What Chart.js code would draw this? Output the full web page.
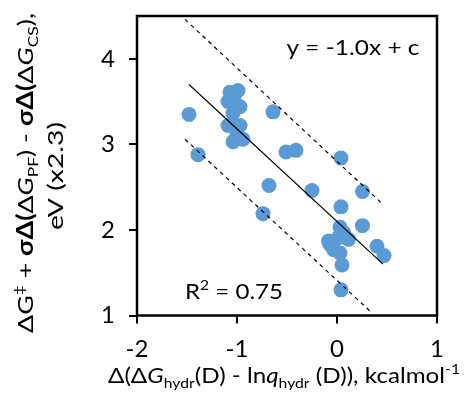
<!DOCTYPE html>
<html>
<head>
<meta charset="utf-8">
<script src="https://cdn.jsdelivr.net/npm/chart.js@4"></script>
<style>
  html, body { margin: 0; padding: 0; background: #fff; }
  #wrap { width: 467px; height: 406px; }
</style>
</head>
<body>
<div id="wrap"><canvas id="chart" width="467" height="406"></canvas></div>
<script>
// measured compounds
const hydrX = [-1.48, -1.39, -1.07, -0.99, -1.03, -1.09, -0.97, -1.04, -1.09, -0.97, -1.00, -1.04, -0.94,
  -0.64, -0.51, -0.41, -0.68, -0.74, -0.25, 0.04, 0.255, 0.04, 0.255, 0.03, 0.065, -0.085, 0.015,
  0.115, -0.035, 0.03, -0.07, 0.40, 0.47, 0.05, 0.04];
const barrierY = [3.35, 2.88, 3.61, 3.63, 3.56, 3.50, 3.44, 3.36, 3.22, 3.22, 3.12, 3.03, 3.06,
  3.38, 2.91, 2.93, 2.52, 2.19, 2.46, 2.84, 2.45, 2.27, 2.05, 2.03, 1.97, 1.87, 1.91,
  1.89, 1.77, 1.73, 1.83, 1.81, 1.70, 1.59, 1.30];

// fit line and the two bounding lines (end points)
const fitX = [-1.48, 0.46];
const fitY = [3.70, 1.60];
const upperX = [-1.52, 0.44];
const upperY = [4.46, 2.32];
const lowerX = [-1.52, 0.35];
const lowerY = [3.06, 1.03];

const xTicks = [-2, -1, 0, 1];
const yTicks = [1, 2, 3, 4];
const xRange = [-2, 1];
const yRange = [1, 4.5];

const FONT = "Lato, 'Open Sans', sans-serif";
const INK = "#000000";

const pts = (xs, ys) => xs.map((x, i) => ({ x: x, y: ys[i] }));

// draw a run of styled pieces, centred on (0,0) of the current transform
function richText(ctx, parts, size, width) {
  const fontOf = (p) => {
    const s = p.sub || p.sup ? size * 0.65 : size;
    return (p.italic ? "italic " : "") + (p.bold ? "bold " : "") + s + "px " + FONT;
  };
  let total = 0;
  parts.forEach((p) => { ctx.font = fontOf(p); p.w = ctx.measureText(p.t).width; total += p.w; });
  const k = width ? width / total : 1;
  ctx.save();
  ctx.scale(k, 1);
  let x = -total / 2;
  ctx.textBaseline = "alphabetic";
  ctx.textAlign = "left";
  ctx.fillStyle = INK;
  parts.forEach((p) => {
    ctx.font = fontOf(p);
    let dy = size * 0.35;
    if (p.sub) dy += size * 0.22;
    if (p.sup) dy -= size * 0.38;
    ctx.fillText(p.t, x, dy);
    x += p.w;
  });
  ctx.restore();
}

const xTitle = [
  { t: "Δ(Δ" }, { t: "G", italic: true }, { t: "hydr", sub: true }, { t: "(D) - ln" },
  { t: "q", italic: true }, { t: "hydr", sub: true }, { t: " (D)), kcalmol" }, { t: "-1", sup: true }
];
const yTitle1 = [
  { t: "ΔG" }, { t: "‡", sup: true }, { t: " + " }, { t: "σΔ(", bold: true }, { t: "Δ" },
  { t: "G", italic: true }, { t: "PF", sub: true }, { t: ") - " }, { t: "σΔ(", bold: true }, { t: "Δ" },
  { t: "G", italic: true }, { t: "CS", sub: true }, { t: ")," }
];
const yTitle2 = [{ t: "eV (x2.3)" }];

const decor = {
  id: "decor",
  afterDraw(chart) {
    const { ctx, chartArea: a } = chart;
    ctx.save();
    ctx.strokeStyle = INK;
    ctx.lineWidth = 2.5;
    ctx.strokeRect(a.left, a.top, a.right - a.left, a.bottom - a.top);

    ctx.save();
    ctx.translate(284, 375);
    richText(ctx, xTitle, 22, 352);
    ctx.restore();

    ctx.save();
    ctx.translate(25, 173);
    ctx.rotate(-Math.PI / 2);
    richText(ctx, yTitle1, 22, 320);
    ctx.restore();

    ctx.save();
    ctx.translate(55, 176);
    ctx.rotate(-Math.PI / 2);
    richText(ctx, yTitle2, 22, 108);
    ctx.restore();

    ctx.save();
    ctx.translate(353, 47);
    richText(ctx, [{ t: "y = -1.0x + c" }], 22, 133);
    ctx.restore();

    ctx.save();
    ctx.translate(234, 291);
    richText(ctx, [{ t: "R" }, { t: "2", sup: true }, { t: " = 0.75" }], 22, 98);
    ctx.restore();
    ctx.restore();
  }
};

const lineSet = (xs, ys, dashed) => ({
  type: "line",
  data: pts(xs, ys),
  borderColor: INK,
  borderWidth: 1.2,
  borderDash: dashed ? [4, 4] : [],
  pointRadius: 0,
  fill: false,
  order: 0
});

new Chart(document.getElementById("chart"), {
  type: "scatter",
  data: {
    datasets: [
      lineSet(fitX, fitY, false),
      lineSet(upperX, upperY, true),
      lineSet(lowerX, lowerY, true),
      {
        data: pts(hydrX, barrierY),
        backgroundColor: "#5B9BD5",
        borderColor: "#5B9BD5",
        pointRadius: 7.5,
        pointBorderWidth: 0,
        order: 1
      }
    ]
  },
  options: {
    responsive: false,
    animation: false,
    events: [],
    layout: { padding: { top: 16, right: 30, left: 0, bottom: 0 } },
    plugins: { legend: { display: false }, tooltip: { enabled: false } },
    scales: {
      x: {
        type: "linear",
        min: xRange[0],
        max: xRange[1],
        afterBuildTicks: (s) => { s.ticks = xTicks.map((v) => ({ value: v })); },
        afterFit: (s) => { s.height = 90.5; s.paddingLeft = 0; s.paddingRight = 0; },
        grid: { drawOnChartArea: false, drawTicks: true, tickLength: 8, color: INK, lineWidth: 2 },
        border: { display: false },
        ticks: { color: INK, padding: 11, font: { family: FONT, size: 24 }, maxRotation: 0 }
      },
      y: {
        type: "linear",
        min: yRange[0],
        max: yRange[1],
        afterBuildTicks: (s) => { s.ticks = yTicks.map((v) => ({ value: v })); },
        afterFit: (s) => { s.width = 137; s.paddingTop = 0; s.paddingBottom = 0; },
        grid: { drawOnChartArea: false, drawTicks: true, tickLength: 8, color: INK, lineWidth: 2 },
        border: { display: false },
        ticks: { color: INK, padding: 14, font: { family: FONT, size: 24 } }
      }
    }
  },
  plugins: [decor]
});
</script>
</body>
</html>
